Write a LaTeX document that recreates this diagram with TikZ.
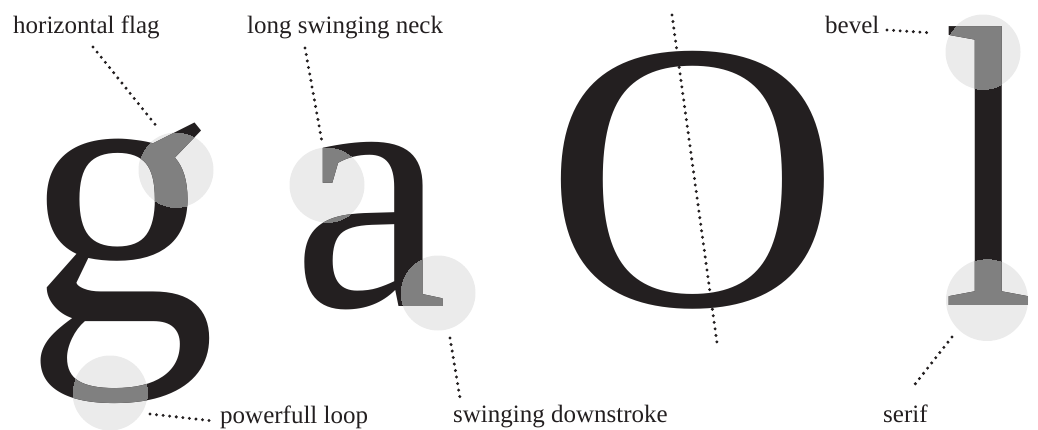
\documentclass[tikz,border=0pt]{standalone}
\usepackage{fontspec}
\setmainfont{Liberation Serif}
\definecolor{ink}{HTML}{231F20}
\definecolor{halogray}{HTML}{EBEBEB}
\definecolor{midgray}{HTML}{808080}
\newcommand\DrawG[2]{\node[glyph,text=#2,font=\fontsize{385}{385}\selectfont] (#1) at (24,320) {\smash{g}};}
\newcommand\DrawA[2]{\node[glyph,text=#2,font=\fontsize{350}{350}\selectfont] (#1) at (292,306) {\smash{a}};}
\newcommand\DrawO[2]{\node[glyph,text=#2,font=\fontsize{384}{384}\selectfont] (#1) at (544,305) {\smash{\scalebox{1.07}[1]{O}}};}
\newcommand\DrawL[2]{\node[glyph,text=#2,font=\fontsize{402}{402}\selectfont] (#1) at (942,305) {\smash{\scalebox{0.83}[1]{l}}};}
\begin{document}
\begin{tikzpicture}[x=1pt,y=-1pt,
  lbl/.style={anchor=base west,inner sep=0pt,text=ink,font=\fontsize{25}{25}\selectfont},
  halo/.style={circle,fill=halogray,inner sep=0pt,minimum size=75pt},
  glyph/.style={anchor=base west,inner sep=0pt},
  dotline/.style={ink,line width=3.3pt,line cap=round,dash pattern=on 0pt off 6.6pt}]
\useasboundingbox (0,0) rectangle (1038,429);
% highlight circles
\node[halo] (hf) at (176,170) {};
\node[halo] (pl) at (110,393) {};
\node[halo] (nk) at (327,185) {};
\node[halo] (ds) at (438,293) {};
\node[halo] (bv) at (983,52) {};
\node[halo,minimum size=82pt] (sf) at (987,300) {};
% glyphs
\DrawG{g}{ink}
\DrawA{a}{ink}
\DrawO{o}{ink}
\DrawL{l}{ink}
% gray where glyphs meet circles
\begin{scope}\clip (hf.center) circle (37.5pt); \DrawG{g1}{midgray}\end{scope}
\begin{scope}\clip (pl.center) circle (37.5pt); \DrawG{g2}{midgray}\end{scope}
\begin{scope}\clip (nk.center) circle (37.5pt); \DrawA{a1}{midgray}\end{scope}
\begin{scope}\clip (ds.center) circle (37.5pt); \DrawA{a2}{midgray}\end{scope}
\begin{scope}\clip (bv.center) circle (37.5pt); \DrawL{l1}{midgray}\end{scope}
\begin{scope}\clip (sf.center) circle (41pt); \DrawL{l2}{midgray}\end{scope}
% labels
\node[lbl] (lhf) at (13,33) {horizontal flag};
\node[lbl] (lnk) at (247,33) {long swinging neck};
\node[lbl] (lpl) at (220,423) {powerfull loop};
\node[lbl] (lds) at (453,422) {swinging downstroke};
\node[lbl] (lbv) at (825,33) {bevel};
\node[lbl] (lsf) at (883,422) {serif};
% dotted leaders
\coordinate (hfa) at (93,47);   \coordinate (hfb) at (158,128);
\coordinate (nka) at (305,48);  \coordinate (nkb) at (322,142);
\coordinate (pla) at (150,414); \coordinate (plb) at (214,421);
\coordinate (dsa) at (450,338); \coordinate (dsb) at (460,398);
\coordinate (axa) at (672,15);  \coordinate (axb) at (717,343);
\coordinate (bva) at (887,30);  \coordinate (bvb) at (933,33);
\coordinate (sfa) at (952,337); \coordinate (sfb) at (912,388);
\draw[dotline] (hfa) -- (hfb);
\draw[dotline] (nka) -- (nkb);
\draw[dotline] (pla) -- (plb);
\draw[dotline] (dsa) -- (dsb);
\draw[dotline] (axa) -- (axb);
\draw[dotline] (bva) -- (bvb);
\draw[dotline] (sfa) -- (sfb);
\end{tikzpicture}
\end{document}
